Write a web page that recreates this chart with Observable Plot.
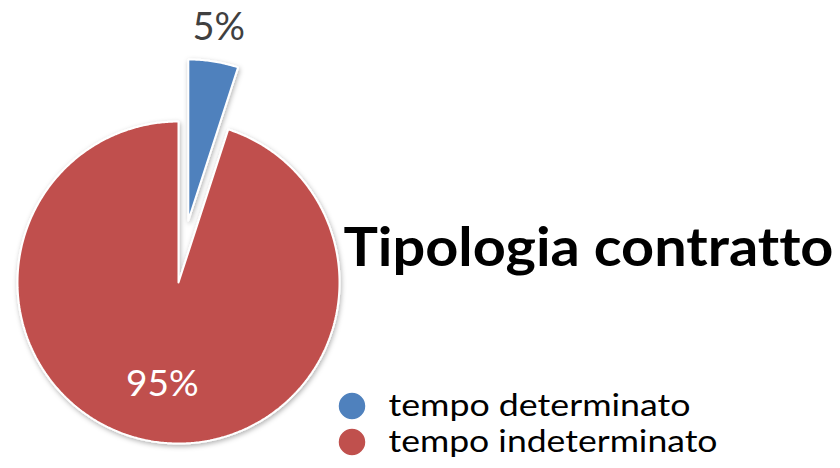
<!DOCTYPE html>
<html>
<head>
<meta charset="utf-8">
<script src="https://cdn.jsdelivr.net/npm/d3@7"></script>
<script src="https://cdn.jsdelivr.net/npm/@observablehq/plot@0.6"></script>
<style>
  html, body { margin: 0; padding: 0; background: #fff; }
  #chart { width: 840px; height: 468px; }
  #chart svg text { font-variant-ligatures: none; font-feature-settings: "liga" 0, "clig" 0; }
</style>
</head>
<body>
<div id="chart"></div>
<script>
// ---- data ----
const categories = ["tempo determinato", "tempo indeterminato"];
const values = [5, 95];
const labels = ["5%", "95%"];
const colors = ["#4F81BD", "#C0504D"];
const explode = [0.39, 0];
const title = "Tipologia contratto";

// ---- geometry (unit-radius pie) ----
const arcs = d3.pie().sort(null).value(d => d)(values);
const slicePts = [];
const labelPts = [];
arcs.forEach((a, i) => {
  const mid = (a.startAngle + a.endAngle) / 2;
  const ox = explode[i] * Math.sin(mid), oy = explode[i] * Math.cos(mid);
  slicePts.push({k: i, x: ox, y: oy});
  const n = Math.max(2, Math.ceil((a.endAngle - a.startAngle) / 0.01));
  for (let j = 0; j <= n; j++) {
    const t = a.startAngle + (a.endAngle - a.startAngle) * j / n;
    slicePts.push({k: i, x: ox + Math.sin(t), y: oy + Math.cos(t)});
  }
  slicePts.push({k: i, x: ox, y: oy});
  const lr = i === 0 ? 1.21 : 0.64;
  labelPts.push({k: i, text: labels[i], x: ox + lr * Math.sin(mid), y: oy + lr * Math.cos(mid)});
});

const R = 161, CX = 178, CY = 282, W = 840, H = 468;

const marks = [];
arcs.forEach((a, i) => {
  marks.push(Plot.line(slicePts.filter(d => d.k === i), {
    x: "x", y: "y", fill: colors[i], stroke: "white", strokeWidth: 2,
    strokeLinejoin: "miter", curve: "linear", className: "slice"
  }));
});
marks.push(Plot.text(labelPts.filter(d => d.k === 0), {
  x: "x", y: "y", text: "text", fill: "#404040", fontSize: 38, fontFamily: "Lato"
}));
marks.push(Plot.text(labelPts.filter(d => d.k === 1), {
  x: "x", y: "y", text: "text", fill: "white", fontSize: 37, fontFamily: "Lato"
}));
marks.push(Plot.text([title], {
  frameAnchor: "top-left", dx: 343, dy: 248, text: d => d, textAnchor: "start",
  lineAnchor: "middle", fontSize: 54, fontWeight: "bold", fill: "black",
  fontFamily: "Lato", className: "ttl"
}));
categories.forEach((c, i) => {
  marks.push(Plot.dot([c], {
    frameAnchor: "top-left", dx: 351.5, dy: 405.5 + 36 * i, r: 14,
    fill: colors[i], stroke: "white", strokeWidth: 1.5
  }));
  marks.push(Plot.text([c], {
    frameAnchor: "top-left", dx: 388, dy: 406 + 36 * i, text: d => d, textAnchor: "start",
    lineAnchor: "middle", fontSize: 31, fill: "black", fontFamily: "Lato",
    className: "leg" + i
  }));
});

const chart = Plot.plot({
  width: W, height: H, margin: 0,
  x: {domain: [-CX / R, (W - CX) / R], axis: null},
  y: {domain: [-(H - CY) / R, CY / R], axis: null},
  style: {background: "white", overflow: "visible"},
  marks
});

// subtle drop shadow for slices
const defs = d3.select(chart).insert("defs", ":first-child");
const f = defs.append("filter").attr("id", "shadow").attr("x", "-20%").attr("y", "-20%").attr("width", "140%").attr("height", "140%");
f.append("feDropShadow").attr("dx", 1).attr("dy", 2).attr("stdDeviation", 2.5).attr("flood-color", "#000").attr("flood-opacity", 0.3);
d3.select(chart).selectAll("g.slice").attr("filter", "url(#shadow)");
d3.select(chart).selectAll("g.ttl text").attr("textLength", 490).attr("lengthAdjust", "spacingAndGlyphs");
d3.select(chart).selectAll("g.leg0 text").attr("textLength", 302).attr("lengthAdjust", "spacingAndGlyphs");
d3.select(chart).selectAll("g.leg1 text").attr("textLength", 329).attr("lengthAdjust", "spacingAndGlyphs");

document.getElementById("chart").appendChild(chart);
</script>
</body>
</html>
